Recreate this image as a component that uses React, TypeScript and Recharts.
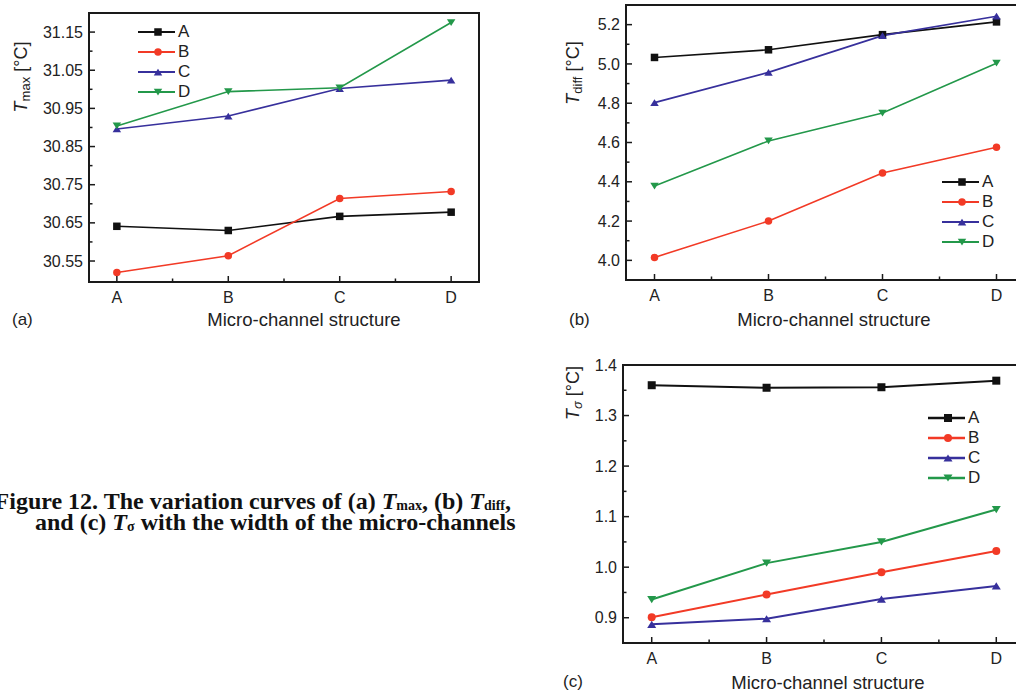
import React from "react";
import { LineChart, Line, XAxis, YAxis, ReferenceArea, Legend } from "recharts";

// categories on the x axis (micro-channel structure)
const categories = ["A", "B", "C", "D"];
const seriesNames = ["A", "B", "C", "D"];
const seriesColors = ["#111111", "#f23a26", "#37309c", "#23984a"];
const seriesShapes = ["square", "circle", "triangle", "triangleDown"];

// (a) Tmax [°C]
const tmaxA = [30.641, 30.63, 30.667, 30.678];
const tmaxB = [30.52, 30.564, 30.714, 30.732];
const tmaxC = [30.896, 30.93, 31.002, 31.024];
const tmaxD = [30.904, 30.994, 31.004, 31.175];

// (b) Tdiff [°C]
const tdiffA = [5.033, 5.072, 5.149, 5.214];
const tdiffB = [4.015, 4.2, 4.445, 4.576];
const tdiffC = [4.803, 4.957, 5.144, 5.243];
const tdiffD = [4.378, 4.608, 4.75, 5.004];

// (c) Tsigma [°C]
const tsigA = [1.36, 1.355, 1.356, 1.369];
const tsigB = [0.901, 0.946, 0.99, 1.032];
const tsigC = [0.887, 0.898, 0.937, 0.963];
const tsigD = [0.936, 1.008, 1.05, 1.114];

// tick labels
const tmaxTicks = [30.55, 30.65, 30.75, 30.85, 30.95, 31.05, 31.15];
const tmaxMinor = [30.6, 30.7, 30.8, 30.9, 31.0, 31.1];
const tdiffTicks = [4.0, 4.2, 4.4, 4.6, 4.8, 5.0, 5.2];
const tdiffMinor = [4.1, 4.3, 4.5, 4.7, 4.9, 5.1];
const tsigTicks = [0.9, 1.0, 1.1, 1.2, 1.3, 1.4];
const tsigMinor = [0.95, 1.05, 1.15, 1.25, 1.35];

const FONT = "'Liberation Sans', Arial, sans-serif";
const SERIF = "'Liberation Serif', 'Times New Roman', serif";
const GAP = 5;

const xMajor = categories.map((_, i) => i);
const xMinor = categories.slice(1).map((_, i) => i + 0.5);
const xDomain: [number, number] = [-0.25, categories.length - 0.75];

function makeRows(a: number[], b: number[], c: number[], d: number[]) {
  return categories.map((cat, i) => ({ x: i, cat, A: a[i], B: b[i], C: c[i], D: d[i] }));
}

function Marker({ shape, cx, cy, color, size }: any) {
  const s = size;
  if (shape === "square") {
    return <rect x={cx - s / 2} y={cy - s / 2} width={s} height={s} fill={color} />;
  }
  if (shape === "circle") {
    return <circle cx={cx} cy={cy} r={s / 2} fill={color} />;
  }
  const h = s * 0.9;
  if (shape === "triangle") {
    return (
      <polygon
        points={`${cx - s / 2 - 0.5},${cy + h / 2} ${cx + s / 2 + 0.5},${cy + h / 2} ${cx},${cy - h / 2}`}
        fill={color}
      />
    );
  }
  return (
    <polygon
      points={`${cx - s / 2 - 0.5},${cy - h / 2} ${cx + s / 2 + 0.5},${cy - h / 2} ${cx},${cy + h / 2}`}
      fill={color}
    />
  );
}

function YTick(props: any) {
  const { x, y, payload, majors, digits } = props;
  const v = payload.value;
  const isMajor = majors.some((m: number) => Math.abs(m - v) < 1e-6);
  const ax = x + GAP;
  return (
    <g>
      <line x1={ax} y1={y} x2={ax + (isMajor ? 6 : 3.5)} y2={y} stroke="#1a1a1a" strokeWidth={1.5} />
      {isMajor && (
        <text x={x - 1} y={y} dy={5.6} textAnchor="end" fontSize={16} fontFamily={FONT} fill="#222">
          {v.toFixed(digits)}
        </text>
      )}
    </g>
  );
}

function XTick(props: any) {
  const { x, y, payload } = props;
  const v = payload.value;
  const isMajor = Number.isInteger(v);
  const ay = y - GAP;
  return (
    <g>
      <line x1={x} y1={ay} x2={x} y2={ay - (isMajor ? 6 : 3.5)} stroke="#1a1a1a" strokeWidth={1.5} />
      {isMajor && (
        <text x={x} y={ay + 21} textAnchor="middle" fontSize={16} fontFamily={FONT} fill="#222">
          {categories[v]}
        </text>
      )}
    </g>
  );
}

function LegendBox({ lineWidth, markerSize }: any) {
  return (
    <div style={{ fontFamily: FONT, fontSize: 17, color: "#222" }}>
      {seriesNames.map((name, i) => (
        <div key={name} style={{ display: "flex", alignItems: "center", height: 20 }}>
          <svg width={37} height={14} style={{ display: "block" }}>
            <line x1={0} y1={7} x2={37} y2={7} stroke={seriesColors[i]} strokeWidth={lineWidth + 0.5} />
            <Marker shape={seriesShapes[i]} cx={20} cy={7} color={seriesColors[i]} size={markerSize} />
          </svg>
          <span style={{ marginLeft: 3, lineHeight: "20px" }}>{name}</span>
        </div>
      ))}
    </div>
  );
}

function Panel(p: any) {
  const ticks = [...p.majors, ...p.minors].sort((a: number, b: number) => a - b);
  return (
    <div style={{ position: "absolute", left: p.left, top: p.top }}>
      <LineChart width={p.width} height={p.height} data={p.data} margin={p.margin}>
        <XAxis
          dataKey="x"
          type="number"
          domain={xDomain}
          ticks={[...xMajor, ...xMinor].sort((a, b) => a - b)}
          interval={0}
          height={p.xHeight}
          axisLine={false}
          tickLine={false}
          tickSize={0}
          tickMargin={GAP}
          tick={(t: any) => <XTick {...t} />}
        />
        <YAxis
          type="number"
          domain={p.domain}
          ticks={ticks}
          interval={0}
          width={p.yWidth}
          allowDataOverflow
          axisLine={false}
          tickLine={false}
          tickSize={0}
          tickMargin={GAP}
          tick={(t: any) => <YTick {...t} majors={p.majors} digits={p.digits} />}
        />
        <ReferenceArea
          x1={xDomain[0]}
          x2={xDomain[1]}
          y1={p.domain[0]}
          y2={p.domain[1]}
          fill="none"
          fillOpacity={0}
          stroke="#1a1a1a"
          strokeWidth={2}
          ifOverflow="visible"
        />
        <Legend
          layout="vertical"
          align="center"
          verticalAlign="middle"
          wrapperStyle={{ left: p.legend.left, top: p.legend.top, width: "auto", height: "auto" }}
          content={() => <LegendBox lineWidth={p.strokeWidth} markerSize={p.markerSize} />}
        />
        {seriesNames.map((name, i) => (
          <Line
            key={name}
            type="linear"
            dataKey={name}
            stroke={seriesColors[i]}
            strokeWidth={p.strokeWidth}
            isAnimationActive={false}
            activeDot={false}
            dot={(d: any) => (
              <Marker
                key={`${name}-${d.index}`}
                shape={seriesShapes[i]}
                cx={d.cx}
                cy={d.cy}
                color={seriesColors[i]}
                size={p.markerSize}
              />
            )}
          />
        ))}
      </LineChart>
    </div>
  );
}

const abs = (left: number, top: number): React.CSSProperties => ({
  position: "absolute",
  left,
  top,
  whiteSpace: "nowrap",
});

function YLabel({ cx, cy, sub }: { cx: number; cy: number; sub: string }) {
  return (
    <div
      style={{
        ...abs(cx, cy),
        transform: "translate(-50%, -50%) rotate(-90deg)",
        fontFamily: FONT,
        fontSize: 18,
        color: "#222",
      }}
    >
      <span style={{ fontStyle: "italic" }}>T</span>
      <span style={{ fontSize: 13, verticalAlign: "-0.25em", fontStyle: sub === "σ" ? "italic" : "normal" }}>{sub}</span>
      <span> [°C]</span>
    </div>
  );
}

function Text({ x, y, children, center }: any) {
  return (
    <div
      style={{
        ...abs(x, y),
        transform: center ? "translate(-50%, -50%)" : "translate(0, -50%)",
        fontFamily: FONT,
        fontSize: center ? 18.5 : 17,
        color: "#222",
      }}
    >
      {children}
    </div>
  );
}

const capSub: React.CSSProperties = { fontSize: 14, verticalAlign: "-0.05em" };
const capStyle: React.CSSProperties = {
  position: "absolute",
  whiteSpace: "nowrap",
  fontFamily: SERIF,
  fontWeight: "bold",
  fontSize: 24,
  lineHeight: "21px",
  color: "#111",
};

export default function App() {
  return (
    <div
      style={{
        position: "absolute",
        left: 0,
        top: 0,
        width: 1016,
        height: 696,
        overflow: "hidden",
        background: "#fff",
      }}
    >
      <Panel
        left={0}
        top={0}
        width={490}
        height={330}
        margin={{ top: 13, right: 11, left: 0, bottom: 0 }}
        yWidth={89}
        xHeight={48}
        data={makeRows(tmaxA, tmaxB, tmaxC, tmaxD)}
        domain={[30.495, 31.2]}
        majors={tmaxTicks}
        minors={tmaxMinor}
        digits={2}
        legend={{ left: 138, top: 22 }}
        strokeWidth={1.6}
        markerSize={7.5}
      />
      <Panel
        left={540}
        top={0}
        width={495}
        height={330}
        margin={{ top: 5, right: 10, left: 0, bottom: 0 }}
        yWidth={86}
        xHeight={50}
        data={makeRows(tdiffA, tdiffB, tdiffC, tdiffD)}
        domain={[3.9, 5.3]}
        majors={tdiffTicks}
        minors={tdiffMinor}
        digits={1}
        legend={{ left: 402, top: 172 }}
        strokeWidth={1.6}
        markerSize={7.5}
      />
      <Panel
        left={540}
        top={340}
        width={495}
        height={356}
        margin={{ top: 25, right: 10, left: 0, bottom: 0 }}
        yWidth={83}
        xHeight={53}
        data={makeRows(tsigA, tsigB, tsigC, tsigD)}
        domain={[0.85, 1.4]}
        majors={tsigTicks}
        minors={tsigMinor}
        digits={1}
        legend={{ left: 388, top: 68 }}
        strokeWidth={2}
        markerSize={8}
      />

      <YLabel cx={22} cy={77} sub="max" />
      <YLabel cx={574} cy={73} sub="diff" />
      <YLabel cx={574} cy={393} sub="σ" />

      <Text x={304} y={320} center>Micro-channel structure</Text>
      <Text x={834} y={320} center>Micro-channel structure</Text>
      <Text x={828} y={683} center>Micro-channel structure</Text>
      <Text x={12} y={320}>(a)</Text>
      <Text x={569} y={320}>(b)</Text>
      <Text x={563} y={682}>(c)</Text>

      <div style={{ ...capStyle, right: 1016 - 511, top: 491 }}>
        Figure 12. The variation curves of (a) <i>T</i>
        <span style={capSub}>max</span>, (b) <i>T</i>
        <span style={capSub}>diff</span>,
      </div>
      <div style={{ ...capStyle, left: 35, top: 512 }}>
        and (c) <i>T</i>
        <span style={capSub}>σ</span> with the width of the micro-channels
      </div>
    </div>
  );
}
